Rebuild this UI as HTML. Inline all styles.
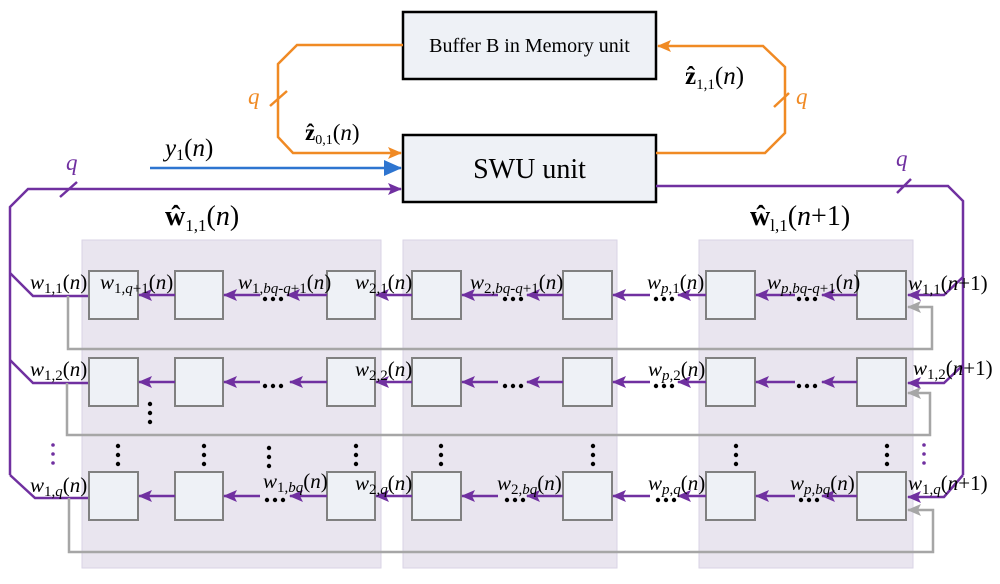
<!DOCTYPE html>
<html><head><meta charset="utf-8"><style>
html,body{margin:0;padding:0;background:#fff;}
svg, svg text{font-family:"Liberation Serif","DejaVu Serif",serif;}
.w{font-size:21px;}
</style></head><body>
<svg width="1000" height="579" viewBox="0 0 1000 579" xmlns="http://www.w3.org/2000/svg" font-family="Liberation Serif, serif">
<defs>
<marker id="ap" markerUnits="userSpaceOnUse" markerWidth="14" markerHeight="12" refX="13" refY="6" orient="auto"><path d="M0,0 L14,6 L0,12 L3,6 z" fill="#7030a0"/></marker>
<marker id="ag" markerUnits="userSpaceOnUse" markerWidth="14" markerHeight="12" refX="13" refY="6" orient="auto"><path d="M0,0 L14,6 L0,12 L3,6 z" fill="#a6a6a6"/></marker>
<marker id="ao" markerUnits="userSpaceOnUse" markerWidth="14" markerHeight="12" refX="13" refY="6" orient="auto"><path d="M0,0 L14,6 L0,12 L3,6 z" fill="#f08a24"/></marker>
<marker id="ab" markerUnits="userSpaceOnUse" markerWidth="18" markerHeight="16" refX="17" refY="8" orient="auto"><path d="M0,0 L18,8 L0,16 z" fill="#2e75d0"/></marker>
</defs>

<rect x="82" y="240" width="299" height="328" fill="#e9e5ef" stroke="#d9d3e6"/>
<rect x="403" y="240" width="214" height="328" fill="#e9e5ef" stroke="#d9d3e6"/>
<rect x="699" y="240" width="214" height="328" fill="#e9e5ef" stroke="#d9d3e6"/>

<rect x="403" y="12" width="253" height="67" fill="#eef1f6" stroke="#000" stroke-width="2.5"/>
<text x="529.5" y="52" font-size="20" text-anchor="middle">Buffer B in Memory unit</text>
<rect x="403" y="135" width="253" height="67" fill="#eef1f6" stroke="#000" stroke-width="2.5"/>
<text x="529.5" y="178" font-size="28" text-anchor="middle">SWU unit</text>

<g fill="none" stroke="#f08a24" stroke-width="2.5">
<polyline points="403,45 297,45 278,64 278,137 293,153 401,153" marker-end="url(#ao)"/>
<polyline points="656,153 765,153 785,133 785,67 763,46 658,46" marker-end="url(#ao)"/>
<line x1="270" y1="106" x2="287" y2="91"/>
<line x1="774" y1="107" x2="789" y2="93"/>
</g>
<text x="248" y="104" font-size="23" font-style="italic" fill="#f08a24">q</text>
<text x="796" y="104" font-size="23" font-style="italic" fill="#f08a24">q</text>

<text x="305" y="140" font-size="23"><tspan font-weight="bold">ẑ</tspan><tspan font-size="14" dy="4">0,1</tspan><tspan dy="-4">(</tspan><tspan font-style="italic">n</tspan>)</text>
<text x="685" y="84" font-size="25"><tspan font-weight="bold">ẑ</tspan><tspan font-size="15" dy="5">1,1</tspan><tspan dy="-5">(</tspan><tspan font-style="italic">n</tspan>)</text>

<line x1="150" y1="168" x2="401" y2="168" stroke="#2e75d0" stroke-width="2.5" marker-end="url(#ab)"/>
<text x="165" y="156" font-size="25"><tspan font-style="italic">y</tspan><tspan font-size="16" dy="4">1</tspan><tspan dy="-4">(</tspan><tspan font-style="italic">n</tspan>)</text>

<g fill="none" stroke="#7030a0" stroke-width="2.5">
<polyline points="10,475 10,207 28,189 401,189" marker-end="url(#ap)"/>
<polyline points="656,186 948,186 963,201 963,475"/>
<line x1="60" y1="197" x2="77" y2="182"/>
<line x1="897" y1="193" x2="911" y2="179"/>
<polyline points="10,273 33,296 89,296"/>
<polyline points="10,360 33,383 89,383"/>
<polyline points="10,475 35,498 89,498"/>
<polyline points="963,277 944,295 908,295" marker-end="url(#ap)"/>
<polyline points="963,365 944,383 908,383" marker-end="url(#ap)"/>
<polyline points="963,475 944,497 908,497" marker-end="url(#ap)"/>
</g>
<text x="66" y="170" font-size="23" font-style="italic" fill="#7030a0">q</text>
<text x="896" y="166" font-size="23" font-style="italic" fill="#7030a0">q</text>

<text x="165" y="225" font-size="28"><tspan font-weight="bold">ŵ</tspan><tspan font-size="17" dy="6">1,1</tspan><tspan dy="-6">(</tspan><tspan font-style="italic">n</tspan>)</text>
<text x="750" y="225" font-size="28"><tspan font-weight="bold">ŵ</tspan><tspan font-size="17" dy="6">l,1</tspan><tspan dy="-6">(</tspan><tspan font-style="italic">n</tspan>+1)</text>

<g fill="none" stroke="#a6a6a6" stroke-width="2.5">
<polyline points="68,296 68,349 932,349 932,307 908,307" marker-end="url(#ag)"/>
<polyline points="67,383 67,435 930,435 930,393 908,393" marker-end="url(#ag)"/>
<polyline points="69,498 69,552 933,552 933,510 908,510" marker-end="url(#ag)"/>
</g>

<g fill="#eef1f6" stroke="#808080" stroke-width="2">
<rect x="89" y="271" width="49" height="48"/><rect x="175" y="271" width="48" height="48"/><rect x="327" y="271" width="48" height="48"/><rect x="412" y="271" width="49" height="48"/><rect x="563" y="271" width="49" height="48"/><rect x="706" y="271" width="49" height="48"/><rect x="857" y="271" width="49" height="48"/>
<rect x="89" y="358" width="49" height="48"/><rect x="175" y="358" width="48" height="48"/><rect x="327" y="358" width="48" height="48"/><rect x="412" y="358" width="49" height="48"/><rect x="563" y="358" width="49" height="48"/><rect x="706" y="358" width="49" height="48"/><rect x="857" y="358" width="49" height="48"/>
<rect x="89" y="472" width="49" height="48"/><rect x="175" y="472" width="48" height="48"/><rect x="327" y="472" width="48" height="48"/><rect x="412" y="472" width="49" height="48"/><rect x="563" y="472" width="49" height="48"/><rect x="706" y="472" width="49" height="48"/><rect x="857" y="472" width="49" height="48"/>
</g>

<g stroke="#7030a0" stroke-width="2.5" marker-end="url(#ap)">
<line x1="175" y1="295" x2="139" y2="295"/><line x1="260" y1="295" x2="224" y2="295"/><line x1="327" y1="295" x2="287" y2="295"/><line x1="412" y1="295" x2="376" y2="295"/><line x1="498" y1="295" x2="462" y2="295"/><line x1="563" y1="295" x2="527" y2="295"/><line x1="650" y1="295" x2="613" y2="295"/><line x1="706" y1="295" x2="678" y2="295"/><line x1="795" y1="295" x2="756" y2="295"/><line x1="857" y1="295" x2="822" y2="295"/>
<line x1="175" y1="382" x2="139" y2="382"/><line x1="260" y1="382" x2="224" y2="382"/><line x1="327" y1="382" x2="290" y2="382"/><line x1="412" y1="382" x2="376" y2="382"/><line x1="498" y1="382" x2="462" y2="382"/><line x1="563" y1="382" x2="527" y2="382"/><line x1="650" y1="382" x2="613" y2="382"/><line x1="706" y1="382" x2="678" y2="382"/><line x1="795" y1="382" x2="756" y2="382"/><line x1="857" y1="382" x2="822" y2="382"/>
<line x1="175" y1="496" x2="139" y2="496"/><line x1="260" y1="496" x2="224" y2="496"/><line x1="327" y1="496" x2="290" y2="496"/><line x1="412" y1="496" x2="376" y2="496"/><line x1="498" y1="496" x2="462" y2="496"/><line x1="563" y1="496" x2="527" y2="496"/><line x1="650" y1="496" x2="613" y2="496"/><line x1="706" y1="496" x2="678" y2="496"/><line x1="795" y1="496" x2="756" y2="496"/><line x1="857" y1="496" x2="822" y2="496"/>
</g>

<g fill="#000">
<circle cx="265" cy="299" r="2.2"/><circle cx="273" cy="299" r="2.2"/><circle cx="281" cy="299" r="2.2"/>
<circle cx="505" cy="299" r="2.2"/><circle cx="513" cy="299" r="2.2"/><circle cx="521" cy="299" r="2.2"/>
<circle cx="656" cy="299" r="2.2"/><circle cx="664" cy="299" r="2.2"/><circle cx="672" cy="299" r="2.2"/>
<circle cx="799" cy="299" r="2.2"/><circle cx="807" cy="299" r="2.2"/><circle cx="815" cy="299" r="2.2"/>
<circle cx="265" cy="386" r="2.2"/><circle cx="273" cy="386" r="2.2"/><circle cx="281" cy="386" r="2.2"/>
<circle cx="505" cy="386" r="2.2"/><circle cx="513" cy="386" r="2.2"/><circle cx="521" cy="386" r="2.2"/>
<circle cx="656" cy="386" r="2.2"/><circle cx="664" cy="386" r="2.2"/><circle cx="672" cy="386" r="2.2"/>
<circle cx="799" cy="386" r="2.2"/><circle cx="807" cy="386" r="2.2"/><circle cx="815" cy="386" r="2.2"/>
<circle cx="267" cy="500" r="2.2"/><circle cx="275" cy="500" r="2.2"/><circle cx="283" cy="500" r="2.2"/>
<circle cx="507" cy="500" r="2.2"/><circle cx="515" cy="500" r="2.2"/><circle cx="523" cy="500" r="2.2"/>
<circle cx="658" cy="500" r="2.2"/><circle cx="666" cy="500" r="2.2"/><circle cx="674" cy="500" r="2.2"/>
<circle cx="801" cy="500" r="2.2"/><circle cx="809" cy="500" r="2.2"/><circle cx="817" cy="500" r="2.2"/>
<circle cx="150" cy="404" r="2.2"/><circle cx="150" cy="413" r="2.2"/><circle cx="150" cy="422" r="2.2"/>
<circle cx="118" cy="446" r="2.2"/><circle cx="118" cy="455" r="2.2"/><circle cx="118" cy="464" r="2.2"/>
<circle cx="204" cy="446" r="2.2"/><circle cx="204" cy="455" r="2.2"/><circle cx="204" cy="464" r="2.2"/>
<circle cx="269" cy="448" r="2.2"/><circle cx="269" cy="457" r="2.2"/><circle cx="269" cy="466" r="2.2"/>
<circle cx="356" cy="446" r="2.2"/><circle cx="356" cy="455" r="2.2"/><circle cx="356" cy="464" r="2.2"/>
<circle cx="441" cy="446" r="2.2"/><circle cx="441" cy="455" r="2.2"/><circle cx="441" cy="464" r="2.2"/>
<circle cx="593" cy="446" r="2.2"/><circle cx="593" cy="455" r="2.2"/><circle cx="593" cy="464" r="2.2"/>
<circle cx="736" cy="446" r="2.2"/><circle cx="736" cy="455" r="2.2"/><circle cx="736" cy="464" r="2.2"/>
<circle cx="887" cy="446" r="2.2"/><circle cx="887" cy="455" r="2.2"/><circle cx="887" cy="464" r="2.2"/>
</g>
<g fill="#7030a0">
<circle cx="53" cy="445" r="1.8"/><circle cx="53" cy="454" r="1.8"/><circle cx="53" cy="463" r="1.8"/>
<circle cx="924" cy="445" r="1.8"/><circle cx="924" cy="454" r="1.8"/><circle cx="924" cy="463" r="1.8"/>
</g>

<g class="w">
<text x="30" y="289"><tspan font-style="italic">w</tspan><tspan font-size="15" dy="4">1,1</tspan><tspan dy="-4">(</tspan><tspan font-style="italic">n</tspan>)</text>
<text x="100" y="289"><tspan font-style="italic">w</tspan><tspan font-size="15" dy="4">1,<tspan font-style="italic">q</tspan>+1</tspan><tspan dy="-4">(</tspan><tspan font-style="italic">n</tspan>)</text>
<text x="238" y="289"><tspan font-style="italic">w</tspan><tspan font-size="15" dy="4">1,<tspan font-style="italic">bq-q</tspan>+1</tspan><tspan dy="-4">(</tspan><tspan font-style="italic">n</tspan>)</text>
<text x="355" y="289"><tspan font-style="italic">w</tspan><tspan font-size="15" dy="4">2,1</tspan><tspan dy="-4">(</tspan><tspan font-style="italic">n</tspan>)</text>
<text x="470" y="289"><tspan font-style="italic">w</tspan><tspan font-size="15" dy="4">2,<tspan font-style="italic">bq-q</tspan>+1</tspan><tspan dy="-4">(</tspan><tspan font-style="italic">n</tspan>)</text>
<text x="647" y="289"><tspan font-style="italic">w</tspan><tspan font-size="15" dy="4"><tspan font-style="italic">p</tspan>,1</tspan><tspan dy="-4">(</tspan><tspan font-style="italic">n</tspan>)</text>
<text x="767" y="289"><tspan font-style="italic">w</tspan><tspan font-size="15" dy="4"><tspan font-style="italic">p</tspan>,<tspan font-style="italic">bq-q</tspan>+1</tspan><tspan dy="-4">(</tspan><tspan font-style="italic">n</tspan>)</text>
<text x="908" y="290"><tspan font-style="italic">w</tspan><tspan font-size="15" dy="4">1,1</tspan><tspan dy="-4">(</tspan><tspan font-style="italic">n</tspan>+1)</text>

<text x="30" y="376"><tspan font-style="italic">w</tspan><tspan font-size="15" dy="4">1,2</tspan><tspan dy="-4">(</tspan><tspan font-style="italic">n</tspan>)</text>
<text x="355" y="376"><tspan font-style="italic">w</tspan><tspan font-size="15" dy="4">2,2</tspan><tspan dy="-4">(</tspan><tspan font-style="italic">n</tspan>)</text>
<text x="648" y="376"><tspan font-style="italic">w</tspan><tspan font-size="15" dy="4"><tspan font-style="italic">p</tspan>,2</tspan><tspan dy="-4">(</tspan><tspan font-style="italic">n</tspan>)</text>
<text x="913" y="375"><tspan font-style="italic">w</tspan><tspan font-size="15" dy="4">1,2</tspan><tspan dy="-4">(</tspan><tspan font-style="italic">n</tspan>+1)</text>

<text x="30" y="492"><tspan font-style="italic">w</tspan><tspan font-size="15" dy="4">1,<tspan font-style="italic">q</tspan></tspan><tspan dy="-4">(</tspan><tspan font-style="italic">n</tspan>)</text>
<text x="263" y="488"><tspan font-style="italic">w</tspan><tspan font-size="15" dy="4">1,<tspan font-style="italic">bq</tspan></tspan><tspan dy="-4">(</tspan><tspan font-style="italic">n</tspan>)</text>
<text x="355" y="490"><tspan font-style="italic">w</tspan><tspan font-size="15" dy="4">2,<tspan font-style="italic">q</tspan></tspan><tspan dy="-4">(</tspan><tspan font-style="italic">n</tspan>)</text>
<text x="497" y="490"><tspan font-style="italic">w</tspan><tspan font-size="15" dy="4">2,<tspan font-style="italic">bq</tspan></tspan><tspan dy="-4">(</tspan><tspan font-style="italic">n</tspan>)</text>
<text x="648" y="490"><tspan font-style="italic">w</tspan><tspan font-size="15" dy="4"><tspan font-style="italic">p</tspan>,<tspan font-style="italic">q</tspan></tspan><tspan dy="-4">(</tspan><tspan font-style="italic">n</tspan>)</text>
<text x="790" y="490"><tspan font-style="italic">w</tspan><tspan font-size="15" dy="4"><tspan font-style="italic">p</tspan>,<tspan font-style="italic">bq</tspan></tspan><tspan dy="-4">(</tspan><tspan font-style="italic">n</tspan>)</text>
<text x="908" y="490"><tspan font-style="italic">w</tspan><tspan font-size="15" dy="4">1,<tspan font-style="italic">q</tspan></tspan><tspan dy="-4">(</tspan><tspan font-style="italic">n</tspan>+1)</text>
</g>
</svg>
</body></html>
